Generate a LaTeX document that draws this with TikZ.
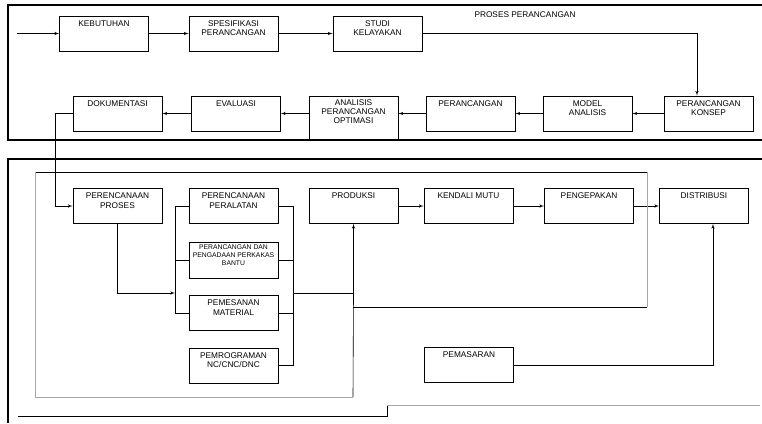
\documentclass[tikz,border=0pt]{standalone}
\usepackage{fontspec}
\setmainfont{Liberation Sans}
\usetikzlibrary{arrows}
\usetikzlibrary{positioning}
\usetikzlibrary{calc}
\tikzset{
  >=latex',
  % connectors
  line/.style={draw, -latex'},
  link/.style={draw},
  faint/.style={draw, black!35},
  frame/.style={draw, line width=1.3pt}
}
\newcommand{\boxtext}[2][26pt]{\parbox[c][#1][t]{86pt}{\centering #2}}

\begin{document}
\begin{tikzpicture}[x=1pt, y=-1pt, semithick, font=\fontsize{8.3}{9.3}\selectfont]
    % Define styles
    \tikzstyle{block} = [rectangle, draw, line width=0.9pt, minimum width=89pt, minimum height=35pt, inner sep=1.5pt]
    \useasboundingbox (0,0) rectangle (762,423);

    % Frames
    \path [frame] (762,5) -- (8,5) -- (8,140) -- (762,140);
    \path [frame] (762,159) -- (8,159) -- (8,423);
    \node (judul) at (525,15) {PROSES PERANCANGAN};

    % Place nodes: perancangan
    \node [block] (kebutuhan) at (104,33.5) {\boxtext{KEBUTUHAN}};
    \node [block] (spesifikasi) at (233.5,33.5) {\boxtext{SPESIFIKASI\\PERANCANGAN}};
    \node [block] (studi) at (377.5,33.5) {\boxtext{STUDI\\KELAYAKAN}};
    \node [block] (konsep) at (708.5,113.5) {\boxtext{PERANCANGAN\\KONSEP}};
    \node [block] (model) at (587.5,113.5) {\boxtext{MODEL\\ANALISIS}};
    \node [block] (perancangan) at (470.5,113.5) {\boxtext{PERANCANGAN}};
    \node [block, minimum height=44pt] (analisis) at (353.5,118) {\boxtext[37pt]{ANALISIS\\PERANCANGAN\\OPTIMASI}};
    \node [block] (evaluasi) at (236,113.5) {\boxtext{EVALUASI}};
    \node [block] (dokumentasi) at (117.5,113.5) {\boxtext{DOKUMENTASI}};

    % Place nodes: produksi
    \node [block] (proses) at (117.5,206) {\boxtext{PERENCANAAN\\PROSES}};
    \node [block] (peralatan) at (233.5,206) {\boxtext{PERENCANAAN\\PERALATAN}};
    \node [block] (produksi) at (353.5,206) {\boxtext{PRODUKSI}};
    \node [block] (mutu) at (468.5,206) {\boxtext{KENDALI MUTU}};
    \node [block] (pengepakan) at (589,206) {\boxtext{PENGEPAKAN}};
    \node [block] (distribusi) at (704,206) {\boxtext{DISTRIBUSI}};
    \node [block, minimum height=36pt, font=\fontsize{6.8}{8}\selectfont] (perkakas) at (233.5,260) {\boxtext[30pt]{PERANCANGAN DAN\\PENGADAAN PERKAKAS\\BANTU}};
    \node [block] (material) at (233.5,313) {\boxtext{PEMESANAN\\MATERIAL}};
    \node [block] (pemrograman) at (233.5,365.5) {\boxtext{PEMROGRAMAN\\NC/CNC/DNC}};
    \node [block] (pemasaran) at (469,365) {\boxtext{PEMASARAN}};

    % Coordinates
    \coordinate (mulai) at (17,33.5);
    \coordinate (belok) at (697,33.5);
    \coordinate (balik) at (55,113.5);
    \coordinate (busL) at (175,206);
    \coordinate (busR) at (293,206);
    \coordinate (pesan) at (175,293);
    \coordinate (gabung) at (293,293);
    \coordinate (bawah) at (353,397);
    \coordinate (retA) at (353,307);
    \coordinate (retB) at (647,307);
    \coordinate (retC) at (647,172);
    \coordinate (retD) at (35,172);
    \coordinate (retE) at (35,397);
    \coordinate (jual) at (713,365);
    \coordinate (dasarA) at (18,416);
    \coordinate (dasarB) at (387,416);
    \coordinate (dasarC) at (387,405);
    \coordinate (dasarD) at (760,405);

    % Draw edges
    \path [line] (mulai) -- (kebutuhan);
    \path [line] (kebutuhan) -- (spesifikasi);
    \path [line] (spesifikasi) -- (studi);
    \path [line] (studi) -- (belok) -- (belok |- konsep.north);
    \path [line] (konsep) -- (model);
    \path [line] (model) -- (perancangan);
    \path [line] (perancangan.west) -- (perancangan.west -| analisis.east);
    \path [line] (analisis.west |- evaluasi.east) -- (evaluasi.east);
    \path [line] (evaluasi) -- (dokumentasi);
    \path [line] (dokumentasi.west) -- (balik) |- (proses.west);

    \path [line] (proses.south) |- (pesan);
    \path [link] (peralatan.west) -- (busL) -- (busL |- material.west) -- (material.west);
    \path [link] (busL |- perkakas.west) -- (perkakas.west);
    \path [link] (peralatan.east) -- (busR) -- (busR |- pemrograman.east) -- (pemrograman.east);
    \path [link] (perkakas.east) -- (busR |- perkakas.east);
    \path [link] (material.east) -- (busR |- material.east);
    \path [line] (gabung) -| (produksi.south);
    \path [link] (produksi.south |- gabung) -- (bawah);

    \path [line] (produksi) -- (mutu);
    \path [line] (mutu) -- (pengepakan);
    \path [line] (pengepakan) -- (distribusi);
    \path [line] (pemasaran.east) -- (jual) -- (jual |- distribusi.south);

    \path [link] (retA) -- (retB);
    \path [faint] (retB) -- (retC);
    \path [link] (retC) -- (retD);
    \path [faint] (retD) -- (retE) -- (bawah);
    \path [link] (dasarA) -- (dasarB) -- (dasarC);
    \path [faint] (dasarC) -- (dasarD);
\end{tikzpicture}
\end{document}
